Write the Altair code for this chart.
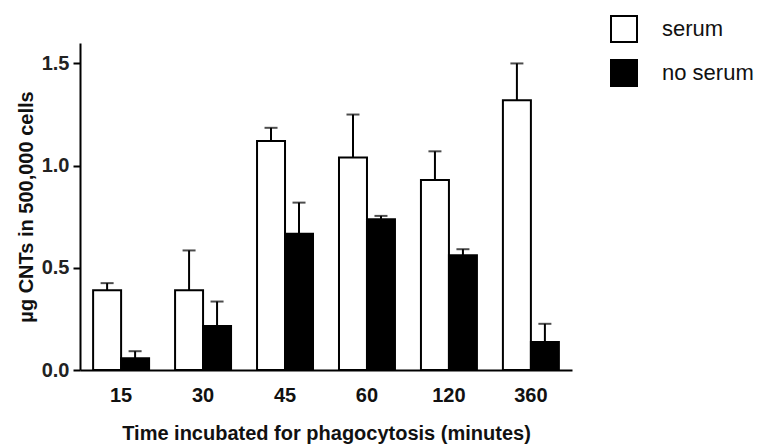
import altair as alt
import pandas as pd

# Incubation times (minutes)
times = ["15", "30", "45", "60", "120", "360"]
groups = ["serum", "no serum"]

# Mean uptake (µg CNTs per 500,000 cells) and SEM for each condition
serum_mean = [0.39, 0.39, 1.12, 1.04, 0.93, 1.32]
serum_sem = [0.035, 0.195, 0.065, 0.21, 0.14, 0.18]
noserum_mean = [0.057, 0.215, 0.667, 0.738, 0.561, 0.137]
noserum_sem = [0.035, 0.12, 0.152, 0.016, 0.03, 0.089]

rows = []
for t, m, s in zip(times, serum_mean, serum_sem):
    rows.append({"time": t, "group": "serum", "mean": m, "upper": m + s})
for t, m, s in zip(times, noserum_mean, noserum_sem):
    rows.append({"time": t, "group": "no serum", "mean": m, "upper": m + s})
df = pd.DataFrame(rows)

FONT = "Liberation Sans"

x_enc = alt.X(
    "time:N",
    sort=times,
    scale=alt.Scale(paddingInner=0.317, paddingOuter=0.16),
    axis=alt.Axis(
        title="Time incubated for phagocytosis (minutes)",
        labelAngle=0,
        ticks=False,
        labelPadding=15,
        labelFontSize=20,
        labelFontWeight="bold",
        labelColor="#111",
        titleFontSize=20,
        titleFontWeight="bold",
        titlePadding=18,
        titleColor="#111",
        domainWidth=2,
        domainColor="black",
    ),
)
xoff = alt.XOffset("group:N", sort=groups, scale=alt.Scale(paddingInner=0))

y_scale = alt.Scale(domain=[0, 1.6], nice=False)

bars = alt.Chart(df).mark_bar(stroke="black", strokeWidth=2).encode(
    x=x_enc,
    xOffset=xoff,
    y=alt.Y(
        "mean:Q",
        scale=y_scale,
        axis=alt.Axis(
            title="µg CNTs in 500,000 cells",
            values=[0, 0.5, 1.0, 1.5],
            format=".1f",
            grid=False,
            tickSize=7,
            tickWidth=2,
            tickColor="black",
            domainWidth=2,
            domainColor="black",
            labelFontSize=20,
            labelFontWeight="bold",
            labelColor="#222",
            labelPadding=4,
            titleFontSize=20,
            titleFontWeight="bold",
            titleColor="#111",
            titlePadding=5,
        ),
    ),
    fill=alt.Fill(
        "group:N",
        sort=groups,
        scale=alt.Scale(domain=groups, range=["white", "black"]),
        legend=alt.Legend(
            title=None,
            orient="none",
            legendX=530,
            legendY=-28,
            symbolType="square",
            symbolSize=676,
            symbolStrokeColor="black",
            symbolStrokeWidth=2,
            labelFontSize=22,
            labelFont=FONT,
            labelColor="#111",
            labelOffset=24,
            rowPadding=10,
            padding=0,
        ),
    ),
)

whisker = alt.Chart(df).mark_rule(color="black", strokeWidth=2).encode(
    x=alt.X("time:N", sort=times),
    xOffset=xoff,
    y=alt.Y("mean:Q", scale=y_scale),
    y2="upper:Q",
)

cap = alt.Chart(df).mark_tick(color="black", thickness=2, size=13).encode(
    x=alt.X("time:N", sort=times),
    xOffset=xoff,
    y=alt.Y("upper:Q", scale=y_scale),
)

chart = (
    alt.layer(bars, whisker, cap)
    .properties(
        width=492,
        height=327,
        autosize=alt.AutoSizeParams(type="none"),
        padding={"left": 80, "top": 43, "right": 189, "bottom": 75},
        background="white",
    )
    .configure_view(stroke=None)
    .configure_axis(labelFont=FONT, titleFont=FONT)
)

chart.save("out.html", embed_options={"renderer": "svg", "actions": False})
